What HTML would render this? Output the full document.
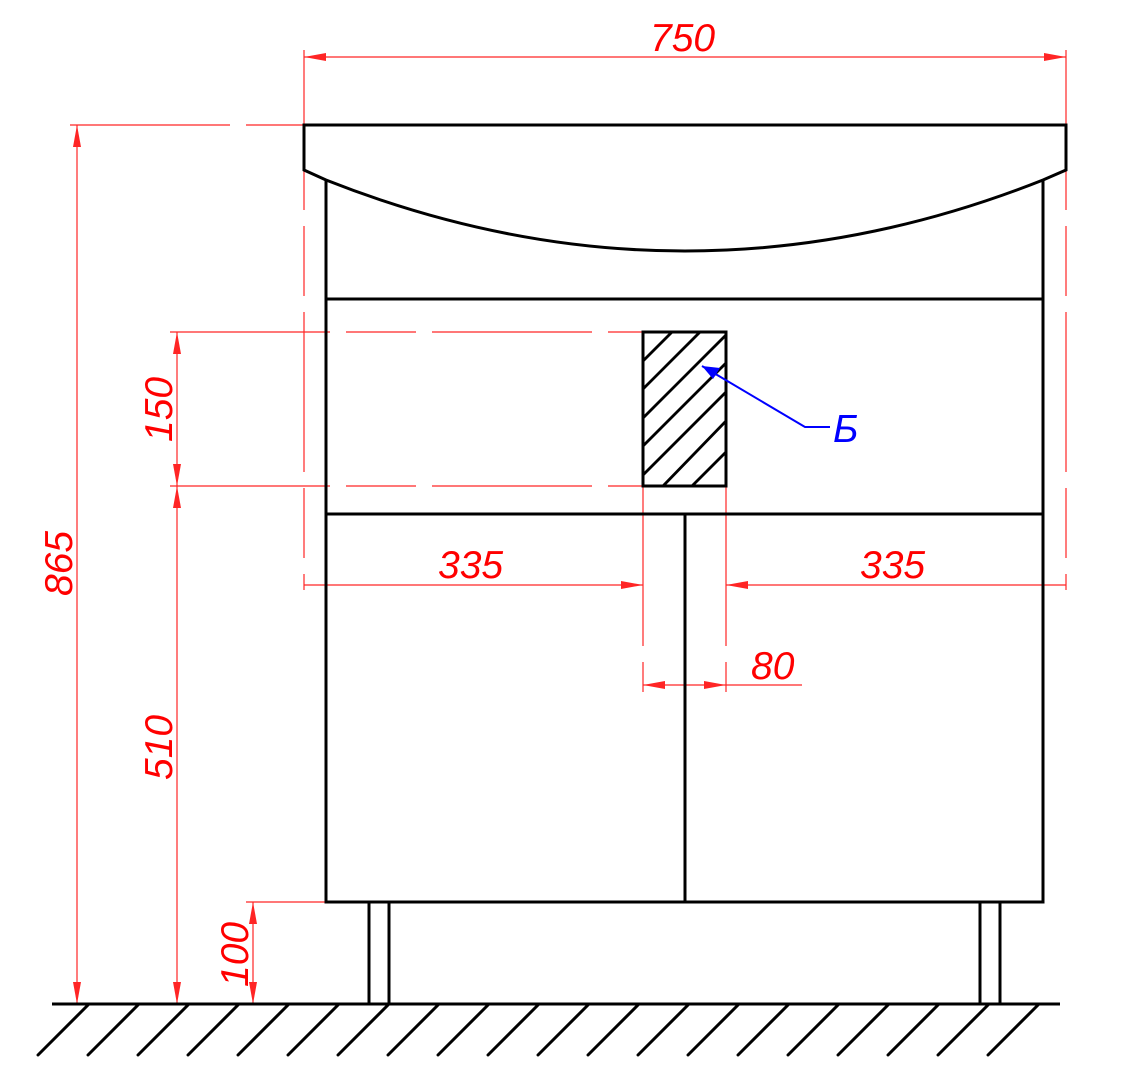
<!DOCTYPE html>
<html><head><style>body{margin:0;background:#fff}svg{display:block}text{font-family:"Liberation Sans",sans-serif;font-style:italic;font-size:39px;fill:#f00}</style></head><body>
<svg width="1139" height="1090" viewBox="0 0 1139 1090">
<defs>
<marker id="a" viewBox="0 0 22 8" refX="22" refY="4" markerWidth="22" markerHeight="8" markerUnits="userSpaceOnUse" orient="auto-start-reverse"><path d="M0,0L22,4L0,8z" fill="#f00"/></marker>
</defs>
<g stroke="#f00" stroke-width="1.2" fill="none" opacity="0.85">
<g stroke-dasharray="160,16,70,16">
<line x1="304" y1="50" x2="304" y2="590"/><line x1="1066" y1="50" x2="1066" y2="590"/>
<line x1="70" y1="125" x2="304" y2="125"/>
<line x1="170" y1="332" x2="643" y2="332"/><line x1="170" y1="486" x2="643" y2="486"/>
<line x1="643" y1="486" x2="643" y2="692"/><line x1="726" y1="486" x2="726" y2="692"/>
</g>
<line x1="246" y1="902" x2="326" y2="902"/>
<line x1="304" y1="57" x2="1066" y2="57" marker-start="url(#a)" marker-end="url(#a)"/>
<line x1="77" y1="125" x2="77" y2="1004" marker-start="url(#a)" marker-end="url(#a)"/>
<line x1="177" y1="332" x2="177" y2="486" marker-start="url(#a)" marker-end="url(#a)"/>
<line x1="177" y1="486" x2="177" y2="1004" marker-start="url(#a)" marker-end="url(#a)"/>
<line x1="253" y1="902" x2="253" y2="1004" marker-start="url(#a)" marker-end="url(#a)"/>
<line x1="304" y1="585" x2="643" y2="585" marker-end="url(#a)"/>
<line x1="1066" y1="585" x2="726" y2="585" marker-end="url(#a)"/>
<line x1="643" y1="685" x2="726" y2="685" marker-start="url(#a)" marker-end="url(#a)"/>
<line x1="726" y1="685" x2="802" y2="685"/>
</g>
<g stroke="#000" stroke-width="3" fill="none">
<path d="M304,125H1066V170L1043,180Q685,322 326,180L304,170Z"/>
<path d="M326,180V902H1043V180M326,299H1043M326,514H1043M685,514V902"/>
<path d="M369,902V1004M389,902V1004M980,902V1004M1000,902V1004"/>
<line x1="52" y1="1004" x2="1060" y2="1004"/>
<rect x="643" y="332" width="83" height="154"/>
</g>
<g stroke="#000" stroke-width="2.8">
<line x1="643" y1="361" x2="672" y2="332"/><line x1="643" y1="389" x2="700" y2="332"/>
<line x1="643" y1="418" x2="726" y2="335"/><line x1="643" y1="446" x2="726" y2="363"/>
<line x1="643" y1="475" x2="726" y2="392"/><line x1="663" y1="486" x2="726" y2="421"/>
<line x1="692" y1="486" x2="726" y2="452"/>
</g>
<g stroke="#000" stroke-width="3" stroke-linecap="round">
<path d="M88,1005L38,1055M138,1005L88,1055M188,1005L138,1055M238,1005L188,1055M288,1005L238,1055M338,1005L288,1055M388,1005L338,1055M438,1005L388,1055M488,1005L438,1055M538,1005L488,1055M588,1005L538,1055M638,1005L588,1055M688,1005L638,1055M738,1005L688,1055M788,1005L738,1055M838,1005L788,1055M888,1005L838,1055M938,1005L888,1055M988,1005L938,1055M1038,1005L988,1055"/>
</g>
<path d="M702,366L805,427H830" stroke="#00f" stroke-width="2" fill="none"/>
<path d="M702,366L720,368L713,379Z" fill="#00f"/>
<text x="833" y="442" style="fill:#00f">Б</text>
<text x="650" y="51">750</text>
<text x="438" y="578">335</text>
<text x="860" y="578">335</text>
<text x="751" y="679">80</text>
<text transform="translate(72,596) rotate(-90)">865</text>
<text transform="translate(172,442) rotate(-90)">150</text>
<text transform="translate(172,780) rotate(-90)">510</text>
<text transform="translate(248,987) rotate(-90)">100</text>
</svg>
</body></html>
